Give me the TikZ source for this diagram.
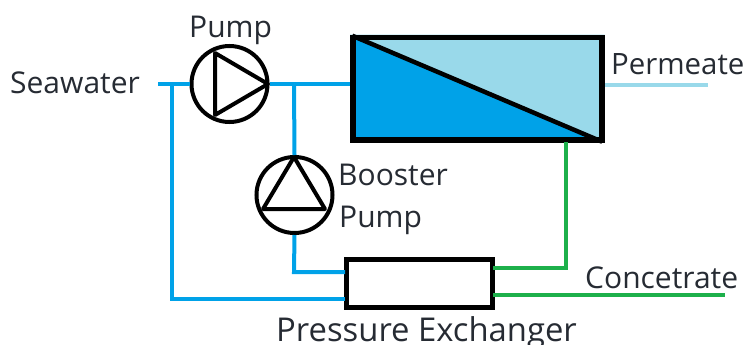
\documentclass[tikz,border=0pt]{standalone}
\usepackage{fontspec}
\setmainfont{Open Sans}
\definecolor{feedblue}{HTML}{00A2E8}
\definecolor{permblue}{HTML}{99D9EA}
\definecolor{brinegreen}{HTML}{1DB04B}
\definecolor{labelgrey}{HTML}{262B33}
\tikzset{
  x=1pt,y=-1pt,
  pumpbody/.style={circle,draw=black,line width=4pt,minimum size=76pt,inner sep=0pt,fill=white},
  unitbox/.style={rectangle,draw=black,line width=5.5pt,inner sep=0pt},
  feedline/.style={draw=feedblue,line width=4pt,line join=miter},
  permline/.style={draw=permblue,line width=4pt},
  brineline/.style={draw=brinegreen,line width=4pt,line join=miter},
  symbolline/.style={draw=black,line width=4pt,line join=round},
  lbl/.style={text=labelgrey,font=\fontsize{30}{30}\selectfont,inner sep=0pt,anchor=base west},
  lblperm/.style={lbl,font=\fontsize{29.4}{30}\selectfont},
  lblbig/.style={lbl,font=\fontsize{32.8}{33}\selectfont}
}
\begin{document}
\begin{tikzpicture}
\useasboundingbox[fill=white] (0,0) rectangle (745,345);
\coordinate (seaend) at (158,84);
\coordinate (seaj) at (172,84);
\coordinate (seac) at (172,299);
\coordinate (pxw) at (345,299);
\coordinate (pxwb) at (345,272);
\coordinate (bj) at (294,84.5);
\coordinate (bc1) at (294,272);
\coordinate (permS) at (605,85);
\coordinate (permE) at (708,85);
\coordinate (gt) at (566,142);
\coordinate (gc) at (566,268);
\coordinate (gp) at (493,268);
\coordinate (cs) at (493,295);
\coordinate (ce) at (725,295);
% units
\node[unitbox,fill=feedblue,minimum width=249pt,minimum height=102.5pt] (ro) at (477.25,88.75) {};
\fill[permblue] (ro.north west) -- (ro.north east) -- (ro.south east) -- cycle;
\draw[black,line width=4.5pt,shorten <=2.5pt,shorten >=2.5pt] (ro.north west) -- (ro.south east);
\node[unitbox,minimum width=249pt,minimum height=102.5pt] (rob) at (477.25,88.75) {};
\node[unitbox,fill=white,line width=5pt,minimum width=146pt,minimum height=48.5pt] (px) at (419,283.5) {};
\node[pumpbody] (pump) at (229.5,84) {};
\node[pumpbody] (boost) at (294.5,195) {};
% pump symbols
\coordinate (pa) at (268,84);
\coordinate (pb) at (215,115);
\coordinate (pc) at (215,53);
\draw[symbolline] (pa) -- (pb) -- (pc) -- cycle;
\coordinate (ba) at (294,157);
\coordinate (bb) at (263,209);
\coordinate (bc) at (325,209);
\draw[symbolline] (ba) -- (bb) -- (bc) -- cycle;
% connectors
\draw[feedline] (seaend) -- (pump.west);
\draw[feedline] (seaj) -- (seac) -- (pxw);
\draw[feedline] (pump.east) -- (ro.west |- pump.east);
\draw[feedline] (bj) -- (boost.north);
\draw[feedline] (boost.south) -- (bc1) -- (pxwb);
\draw[permline] (permS) -- (permE);
\draw[brineline] (gt) -- (gc) -- (gp);
\draw[brineline] (cs) -- (ce);
% labels
\node[lbl] (l1) at (10,93) {Seawater};
\node[lbl] (l2) at (189,38) {Pump};
\node[lbl] (l3) at (338,185) {Booster};
\node[lbl] (l4) at (339,227) {Pump};
\node[lblperm] (l5) at (611,75) {Permeate};
\node[lbl] (l6) at (585,288) {Concetrate};
\node[lblbig] (l7) at (276,341) {Pressure Exchanger};
\end{tikzpicture}
\end{document}
